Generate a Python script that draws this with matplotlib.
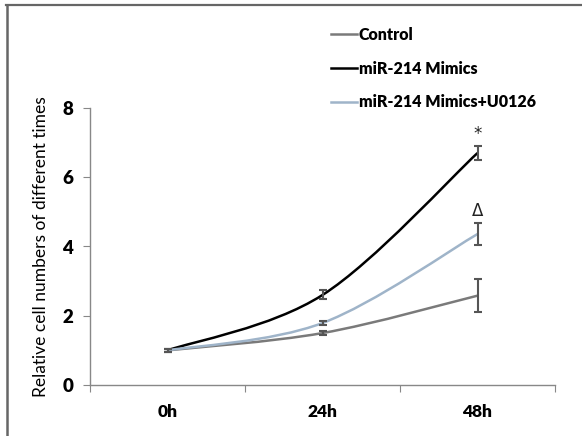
import numpy as np
import matplotlib
matplotlib.use("Agg")
import matplotlib.pyplot as plt
from matplotlib.path import Path
from matplotlib.patches import PathPatch
from matplotlib.lines import Line2D

plt.rcParams['font.family'] = ['Lato', 'DejaVu Sans']

times = ["0h", "24h", "48h"]
series = ["Control", "miR-214 Mimics", "miR-214 Mimics+U0126"]
control = [1.0, 1.5, 2.58]
control_err = [0.05, 0.05, 0.47]
mimics = [1.0, 2.6, 6.7]
mimics_err = [0.05, 0.13, 0.2]
u0126 = [1.0, 1.79, 4.36]
u0126_err = [0.05, 0.07, 0.31]
colors = ["#7a7a7a", "#000000", "#9fb4c9"]
marks = ["*", "\u0394"]  # above 48h for mimics and u0126


def smooth_path(x, y, t=1 / 6):
    # Catmull-Rom style bezier through the points (like Excel's smoothed line)
    x = np.asarray(x, float)
    y = np.asarray(y, float)
    px = np.concatenate([[x[0]], x, [x[-1]]])
    py = np.concatenate([[y[0]], y, [y[-1]]])
    verts = [(x[0], y[0])]
    codes = [Path.MOVETO]
    for i in range(1, len(x)):
        c1 = (px[i] + (px[i + 1] - px[i - 1]) * t, py[i] + (py[i + 1] - py[i - 1]) * t)
        c2 = (px[i + 1] - (px[i + 2] - px[i]) * t, py[i + 1] - (py[i + 2] - py[i]) * t)
        verts += [c1, c2, (x[i], y[i])]
        codes += [Path.CURVE4] * 3
    return Path(verts, codes)


fig = plt.figure(figsize=(5.82, 4.36), dpi=100)
ax = fig.add_axes([90 / 582, 1 - 385 / 436, 465 / 582, 277 / 436])

xpos = np.arange(len(times)) + 0.5
data = [control, mimics, u0126]
errs = [control_err, mimics_err, u0126_err]
for vals, err, c, name in zip(data, errs, colors, series):
    ax.add_patch(PathPatch(smooth_path(xpos, vals), fill=False, edgecolor=c, lw=1.8, zorder=3))
    ax.errorbar(xpos, vals, yerr=err, fmt="none", ecolor="#555555", elinewidth=1.5,
                capsize=3, capthick=1.5, zorder=4)

ax.text(xpos[2], mimics[2] + mimics_err[2] + 0.35, marks[0], ha="center", va="center",
        fontsize=12, family="DejaVu Sans", color="#222222")
ax.text(xpos[2], u0126[2] + u0126_err[2] + 0.35, marks[1], ha="center", va="center",
        fontsize=12, family="DejaVu Sans", color="#222222")

ax.set_xlim(0, 3)
ax.set_ylim(0, 8)
ax.set_xticks([0, 1, 2, 3])
ax.set_xticklabels([])
ax.set_xticks(xpos, minor=True)
ax.set_xticklabels(times, minor=True, fontsize=12.5, fontweight="heavy")
ax.tick_params(axis="x", which="minor", length=0, pad=14)
ax.tick_params(axis="x", which="major", length=5, direction="out", color="#888888")
ax.set_yticks([0, 2, 4, 6, 8])
ax.set_yticklabels(["0", "2", "4", "6", "8"], fontsize=13.5, fontweight="heavy")
ax.tick_params(axis="y", length=5, direction="out", color="#888888", pad=7)
for s in ["top", "right"]:
    ax.spines[s].set_visible(False)
for s in ["left", "bottom"]:
    ax.spines[s].set_color("#888888")
    ax.spines[s].set_linewidth(1)
ax.set_ylabel("Relative cell numbers of different times", fontsize=12.5, labelpad=10)

handles = [Line2D([], [], color=c, lw=1.8) for c in colors]
fig.legend(handles, series, loc="upper left", bbox_to_anchor=(331 / 582, 1 - 27 / 436),
           frameon=False, handlelength=1.6, handletextpad=0.15, labelspacing=1.1,
           borderpad=0, borderaxespad=0, prop={"weight": "heavy", "size": 11.5})

# outer frame of the picture
fig.add_artist(Line2D([6 / 582, 1], [1 - 5.5 / 436] * 2, transform=fig.transFigure,
                      color="#666666", lw=1.6))
fig.add_artist(Line2D([6.5 / 582] * 2, [0, 1 - 5 / 436], transform=fig.transFigure,
                      color="#666666", lw=1.8))

fig.savefig("out.png", dpi=100)
